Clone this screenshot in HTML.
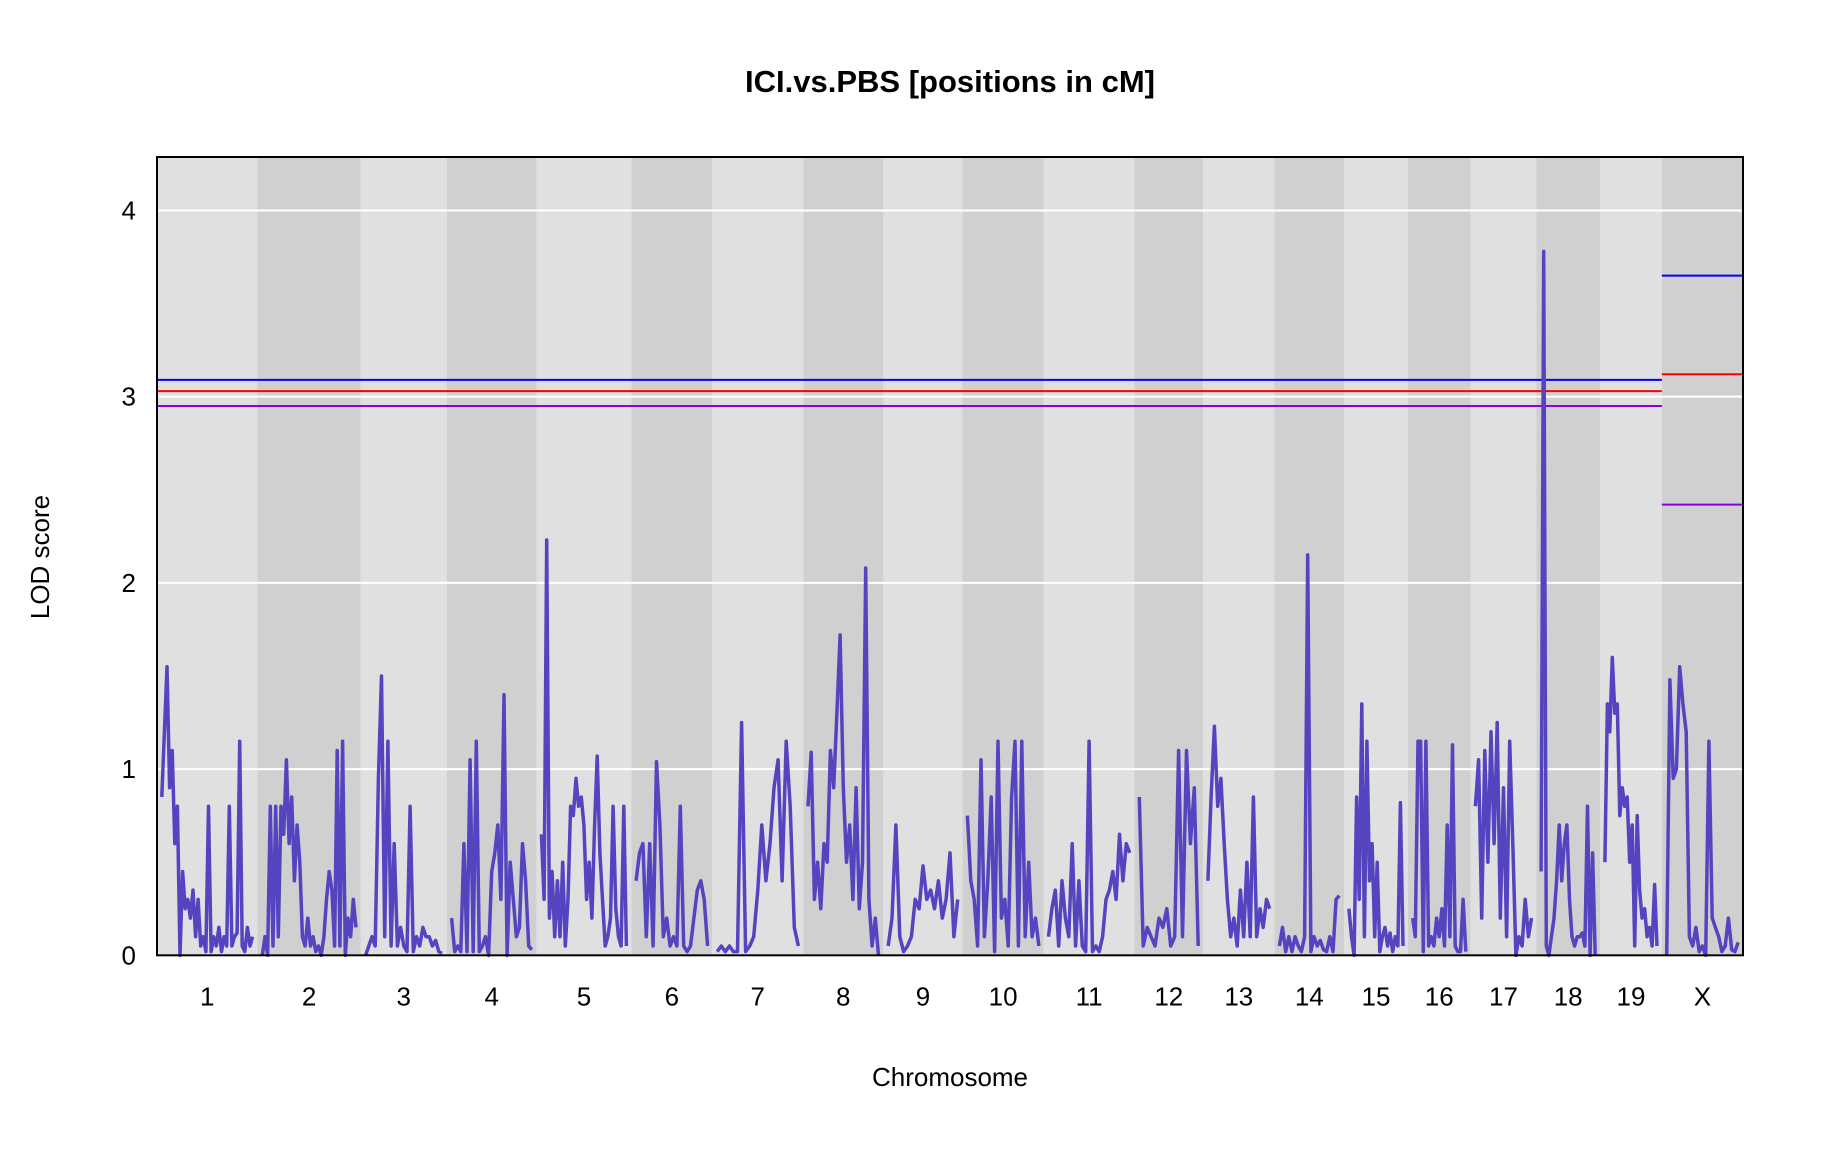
<!DOCTYPE html>
<html><head><meta charset="utf-8"><style>
html,body{margin:0;padding:0;background:#fff;}
svg{display:block;font-family:"Liberation Sans",Arial,sans-serif;}
</style></head><body>
<svg id="chart" width="1824" height="1152" viewBox="0 0 1824 1152" xmlns="http://www.w3.org/2000/svg">
<text x="950" y="92" text-anchor="middle" font-size="31" font-weight="bold">ICI.vs.PBS [positions in cM]</text>
<text x="950" y="1086" text-anchor="middle" font-size="26">Chromosome</text>
<text transform="translate(49,557) rotate(-90)" text-anchor="middle" font-size="26">LOD score</text>
<g id="bands"></g><g id="grid"></g><g id="thr"></g><g id="curves"></g><g id="ticks"></g>
<rect x="157" y="157" width="1586" height="798.3" fill="none" stroke="#000" stroke-width="2"/>
</svg>
<script>
const chrNames = ["1","2","3","4","5","6","7","8","9","10","11","12","13","14","15","16","17","18","19","X"];
const chrLengths = [94,97,79,83,88,74,84,73,72,74,84,61,64,62,56,55,58,56,54,74];
const yTicks = [0,1,2,3,4];
const thrAuto = [3.09,3.03,2.95];
const thrX = [3.65,3.12,2.42];
const thrColors = ["#0000ff","#ff0000","#8a00e6"];
const lod1 = [0.85,1.2,1.55,0.9,1.1,0.6,0.8,0,0.45,0.25,0.3,0.2,0.35,0.1,0.3,0.05,0.1,0.02,0.8,0.02,0.1,0.05,0.15,0.02,0.1,0.05,0.8,0.05,0.1,0.12,1.15,0.05,0.02,0.15,0.05,0.1];
const lod2 = [0,0.1,0,0.8,0.05,0.8,0.1,0.8,0.65,1.05,0.6,0.85,0.4,0.7,0.5,0.1,0.05,0.2,0.05,0.1,0.02,0.05,0,0.1,0.3,0.45,0.35,0.05,1.1,0.05,1.15,0,0.2,0.1,0.3,0.15];
const lod3 = [0,0.05,0.1,0.05,0.95,1.5,0.1,1.15,0.05,0.6,0.05,0.15,0.05,0.02,0.8,0.02,0.1,0.05,0.15,0.1,0.1,0.05,0.08,0.02,0.01];
const lod4 = [0.2,0.02,0.05,0.02,0.6,0.02,1.05,0.02,1.15,0.02,0.05,0.1,0,0.45,0.55,0.7,0.3,1.4,0,0.5,0.3,0.1,0.15,0.6,0.4,0.05,0.03];
const lod5 = [0.65,0.3,2.23,0.2,0.45,0.1,0.4,0.1,0.5,0.05,0.3,0.8,0.75,0.95,0.8,0.85,0.7,0.3,0.5,0.2,0.7,1.07,0.55,0.3,0.05,0.1,0.2,0.8,0.25,0.1,0.05,0.8,0.05];
const lod6 = [0.4,0.55,0.6,0.1,0.6,0.05,1.04,0.7,0.1,0.2,0.05,0.1,0.05,0.8,0.05,0.02,0.05,0.2,0.35,0.4,0.3,0.05];
const lod7 = [0.02,0.05,0.02,0.05,0.02,0.02,1.25,0.02,0.05,0.1,0.35,0.7,0.4,0.6,0.9,1.05,0.4,1.15,0.8,0.15,0.05];
const lod8 = [0.8,1.09,0.3,0.5,0.25,0.6,0.5,1.1,0.9,1.3,1.72,0.9,0.5,0.7,0.3,0.9,0.25,0.5,2.08,0.3,0.05,0.2,0];
const lod9 = [0.05,0.2,0.7,0.1,0.02,0.05,0.1,0.3,0.25,0.48,0.3,0.35,0.25,0.4,0.2,0.3,0.55,0.1,0.3];
const lod10 = [0.75,0.4,0.3,0.05,1.05,0.1,0.4,0.85,0.02,1.15,0.2,0.3,0.05,0.85,1.15,0.05,1.15,0.1,0.5,0.1,0.2,0.05];
const lod11 = [0.1,0.25,0.35,0.05,0.4,0.2,0.1,0.6,0.05,0.4,0.05,0.02,1.15,0.02,0.05,0.02,0.1,0.3,0.35,0.45,0.3,0.65,0.4,0.6,0.55];
const lod12 = [0.85,0.05,0.15,0.1,0.05,0.2,0.15,0.25,0.05,0.1,1.1,0.1,1.1,0.6,0.9,0.05];
const lod13 = [0.4,0.85,1.23,0.8,0.95,0.6,0.3,0.1,0.2,0.05,0.35,0.1,0.5,0.1,0.85,0.1,0.25,0.15,0.3,0.25];
const lod14 = [0.05,0.15,0.02,0.1,0.02,0.1,0.05,0.02,0.1,2.15,0.02,0.1,0.05,0.08,0.03,0.02,0.1,0.02,0.3,0.32];
const lod15 = [0.25,0.1,0,0.85,0.3,1.35,0.1,1.15,0.4,0.6,0.1,0.5,0.02,0.1,0.15,0.05,0.12,0.02,0.1,0.05,0.82,0.05];
const lod16 = [0.2,0.1,1.15,1.15,0.02,1.15,0.05,0.1,0.05,0.2,0.1,0.25,0.05,0.7,0.1,1.13,0.05,0.02,0.02,0.3,0.02];
const lod17 = [0.8,1.05,0.2,1.1,0.5,1.2,0.6,1.25,0.2,0.9,0.1,1.15,0.6,0,0.1,0.05,0.3,0.1,0.2];
const lod18 = [0.45,3.78,0.05,0,0.1,0.2,0.4,0.7,0.4,0.6,0.7,0.3,0.1,0.05,0.1,0.1,0.12,0.05,0.8,0,0.55,0];
const lod19 = [0.5,1.35,1.2,1.6,1.3,1.35,0.75,0.9,0.8,0.85,0.5,0.7,0.05,0.75,0.35,0.2,0.25,0.1,0.15,0.05,0.38,0.05];
const lodX = [0,1.48,0.95,1.0,1.55,1.35,1.2,0.1,0.05,0.15,0.02,0.05,0,1.15,0.2,0.15,0.1,0.02,0.05,0.2,0.03,0.02,0.07];
const lodAll = [lod1,lod2,lod3,lod4,lod5,lod6,lod7,lod8,lod9,lod10,lod11,lod12,lod13,lod14,lod15,lod16,lod17,lod18,lod19,lodX];

const NS="http://www.w3.org/2000/svg";
const gap = 10;
const L=157,R=1743,T=157,B=955.3;
const yMax=4.287;
const total = chrLengths.reduce((a,b)=>a+b,0)+gap*chrLengths.length;
const xs = v => L + v/total*(R-L);
const ys = v => B - v/yMax*(B-T);
function mk(tag,attrs,parent){const e=document.createElementNS(NS,tag);for(const k in attrs)e.setAttribute(k,attrs[k]);parent.appendChild(e);return e;}
const starts=[];let acc=0;
chrLengths.forEach((len)=>{starts.push(acc);acc+=len+gap;});
const bands=document.getElementById('bands'),grid=document.getElementById('grid'),thr=document.getElementById('thr'),curves=document.getElementById('curves'),ticks=document.getElementById('ticks');
chrLengths.forEach((len,i)=>{
  const r=mk('rect',{x:xs(starts[i]),y:T,width:xs(starts[i]+len+gap)-xs(starts[i]),height:B-T,fill:i%2?'#d0d0d0':'#e0e0e0'},bands);
  
  
  const t=mk('text',{x:xs(starts[i]+gap/2+len/2),y:B+50,'text-anchor':'middle','font-size':'26'},ticks);
  t.textContent=chrNames[i];
  
  
});
yTicks.forEach(v=>{
  const g=mk('line',{x1:L,x2:R,y1:ys(v),y2:ys(v),stroke:'#fff','stroke-width':'2'},grid);
  
  
  const t=mk('text',{x:136,y:ys(v)+9,'text-anchor':'end','font-size':'26'},ticks);
  t.textContent=v;
  
  
});
const xStart=starts[19];
thrAuto.forEach((v,i)=>{
  const l=mk('line',{x1:L,x2:xs(xStart),y1:ys(v),y2:ys(v),stroke:thrColors[i],'stroke-width':'2'},thr);
  
  
});
thrX.forEach((v,i)=>{
  const l=mk('line',{x1:xs(xStart),x2:R,y1:ys(v),y2:ys(v),stroke:thrColors[i],'stroke-width':'2'},thr);
  
  
});
lodAll.forEach((vals,i)=>{
  const s=starts[i]+gap/2, len=chrLengths[i], n=vals.length;
  const pts=vals.map((v,j)=>xs(s+len*j/(n-1)).toFixed(1)+','+ys(v).toFixed(1)).join(' ');
  const p=mk('polyline',{points:pts,fill:'none',stroke:'#5544c0','stroke-width':'3.5','stroke-linejoin':'round'},curves);
  
  
});
</script>
</body></html>
